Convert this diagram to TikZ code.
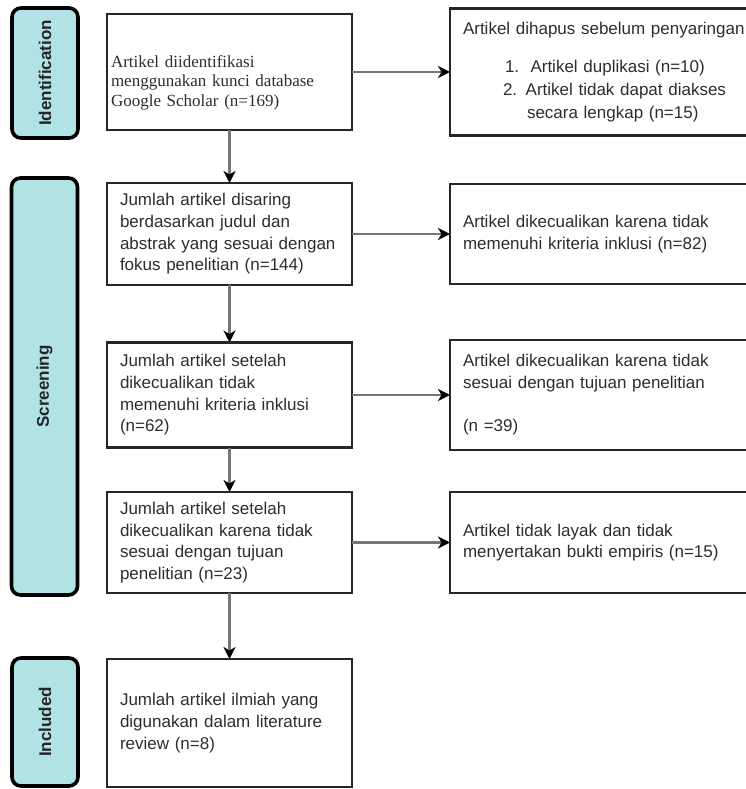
\documentclass[tikz,border=0pt]{standalone}
\usepackage{fontspec}
\setmainfont{Liberation Serif}
\setsansfont{Liberation Sans}
\usepackage{xcolor}
\usetikzlibrary{arrows.meta}
\definecolor{stagefill}{RGB}{176,226,230}
\definecolor{boxline}{RGB}{38,38,38}
\definecolor{arrowline}{RGB}{118,118,118}
\definecolor{boxtext}{RGB}{45,45,45}

\begin{document}
\begin{tikzpicture}[x=1pt, y=-1pt,
    box/.style={draw=boxline, line width=2.8pt, anchor=west, inner xsep=13pt, inner ysep=0pt, outer sep=0pt,
        minimum width=245pt, text width=219pt, align=left, text=boxtext,
        font=\sffamily\fontsize{17}{21.7}\selectfont},
    sidebox/.style={box, minimum width=340pt, text width=314pt},
    stage/.style={draw=black, line width=3.6pt, fill=stagefill, rounded corners=9pt, rotate=90,
        minimum height=66pt, inner sep=0pt, text=black!85, font=\sffamily\bfseries\fontsize{17}{20}\selectfont},
    arr/.style={draw=arrowline, line width=2.3pt, -{Stealth[length=12pt, width=12pt, inset=3.5pt, black]}}]
                \useasboundingbox (0,0) rectangle (746,789);
                \clip (0,0) rectangle (746,789);

                \node[stage, minimum width=130pt] (sid) at (45,73) {Identification};
                \node[stage, minimum width=417pt] (sscr) at (44.5,386.5) {Screening};
                \node[stage, minimum width=128pt] (sinc) at (45,722) {Included};

                \node[box, minimum height=116pt, inner xsep=4pt, text width=237pt, text height=33pt,
                    font=\rmfamily\fontsize{17}{19.5}\selectfont] (b1) at (107,72)
                    {Artikel diidentifikasi\\menggunakan kunci database\\Google Scholar (n=169)};
                \node[box, minimum height=102pt] (b2) at (107,234)
                    {Jumlah artikel disaring\\berdasarkan judul dan\\abstrak yang sesuai dengan\\fokus penelitian (n=144)};
                \node[box, minimum height=105pt] (b3) at (107,395)
                    {Jumlah artikel setelah\\dikecualikan tidak\\memenuhi kriteria inklusi\\(n=62)};
                \node[box, minimum height=101pt] (b4) at (107,542.5)
                    {Jumlah artikel setelah\\dikecualikan karena tidak\\sesuai dengan tujuan\\penelitian (n=23)};
                \node[box, minimum height=128pt] (b5) at (107,723)
                    {Jumlah artikel ilmiah yang\\digunakan dalam literature\\review (n=8)};

                \node[sidebox, minimum height=127pt, font=\sffamily\fontsize{17}{23}\selectfont] (r1) at (450,72)
                    {Artikel dihapus sebelum penyaringan\\[15pt]
                     \hspace*{42pt}1.\ \ Artikel duplikasi (n=10)\\
                     \hspace*{40pt}2. Artikel tidak dapat diakses\\
                     \hspace*{64pt}secara lengkap (n=15)};
                \node[sidebox, minimum height=100pt] (r2) at (450,234)
                    {Artikel dikecualikan karena tidak\\memenuhi kriteria inklusi (n=82)};
                \node[sidebox, minimum height=110pt] (r3) at (450,395)
                    {Artikel dikecualikan karena tidak\\sesuai dengan tujuan penelitian\\[21.7pt](n =39)};
                \node[sidebox, minimum height=101pt] (r4) at (450,542.5)
                    {Artikel tidak layak dan tidak\\menyertakan bukti empiris (n=15)};

                \draw[arr] (b1) -- (b2);
                \draw[arr] (b2) -- (b3);
                \draw[arr] (b3) -- (b4);
                \draw[arr] (b4) -- (b5);
                \draw[arr] (b1) -- (r1);
                \draw[arr] (b2) -- (r2);
                \draw[arr] (b3) -- (r3);
                \draw[arr] (b4) -- (r4);
            \end{tikzpicture}
\end{document}
